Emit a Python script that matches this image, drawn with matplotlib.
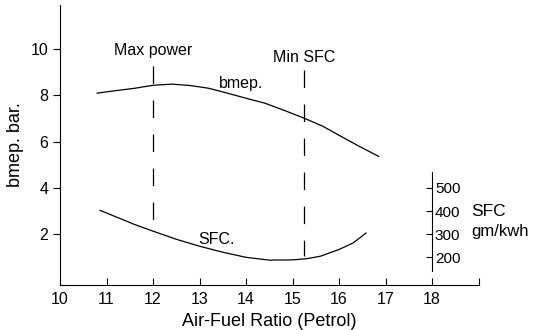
import matplotlib
matplotlib.use("Agg")
import matplotlib.pyplot as plt

plt.rcParams['font.family'] = ['Liberation Sans', 'DejaVu Sans']
plt.rcParams['lines.scale_dashes'] = False

# bmep curve (bar) against air-fuel ratio
afr_bmep = [10.8, 11.2, 11.6, 12.0, 12.4, 12.8, 13.2, 13.6, 14.0, 14.4,
            14.75, 15.25, 15.65, 16.0, 16.4, 16.85]
bmep = [8.09, 8.2, 8.3, 8.43, 8.48, 8.42, 8.3, 8.09, 7.87, 7.66,
        7.4, 7.01, 6.66, 6.27, 5.83, 5.36]

# SFC curve (gm/kwh) against air-fuel ratio
afr_sfc = [10.86, 11.2, 11.6, 12.0, 12.5, 13.0, 13.5, 14.0, 14.5, 15.0,
           15.3, 15.6, 16.0, 16.3, 16.58]
sfc = [403, 375, 342, 313, 278, 248, 222, 200, 188, 189,
       194, 205, 234, 262, 305]

x_ticks = [10, 11, 12, 13, 14, 15, 16, 17, 18, 19]
x_labels = ['10', '11', '12', '13', '14', '15', '16', '17', '18', '']
y_ticks = [2, 4, 6, 8, 10]
sfc_ticks = [200, 300, 400, 500]

max_power_afr = 12.0
min_sfc_afr = 15.25

fig = plt.figure(figsize=(5.36, 3.3), dpi=100)
ax = fig.add_axes([0.112, 0.136, 0.781, 0.849])

ax.plot(afr_bmep, bmep, color='black', lw=0.9)
ax.set_xlim(10, 19)
ax.set_ylim(-0.2, 11.9)

dash = (12.6, 11.9)
ax.plot([max_power_afr, max_power_afr], [9.28, 2.54], color='black', lw=0.9,
        linestyle=(0, dash))
ax.plot([min_sfc_afr, min_sfc_afr], [9.09, 1.05], color='black', lw=0.9,
        linestyle=(0, dash))

ax.text(max_power_afr, 9.95, 'Max power', ha='center', va='center', fontsize=11.5)
ax.text(min_sfc_afr, 9.65, 'Min SFC', ha='center', va='center', fontsize=11.5)
ax.text(13.9, 8.5, 'bmep.', ha='center', va='center', fontsize=11.5)
ax.text(13.37, 1.77, 'SFC.', ha='center', va='center', fontsize=11.5)

for side in ('top', 'right'):
    ax.spines[side].set_visible(False)
ax.set_xticks(x_ticks)
ax.set_xticklabels(x_labels)
ax.set_yticks(y_ticks)
ax.tick_params(axis='x', direction='in', length=5, labelsize=11.5, pad=5)
ax.tick_params(axis='y', direction='out', length=5, labelsize=11.5)
ax.set_xlabel('Air-Fuel Ratio (Petrol)', fontsize=13, labelpad=4)
ax.set_ylabel('bmep. bar.', fontsize=13, labelpad=5)

# secondary SFC scale drawn at x = 18
ax2 = ax.twinx()
ax2.set_ylim(100 + 100 * -0.2, 100 + 100 * 11.9)
ax2.plot(afr_sfc, sfc, color='black', lw=0.9)
for side in ('top', 'left', 'bottom'):
    ax2.spines[side].set_visible(False)
ax2.spines['right'].set_position(('data', 18))
ax2.spines['right'].set_bounds(139, 570)
ax2.set_yticks(sfc_ticks)
ax2.tick_params(axis='y', direction='in', length=4, labelsize=11, pad=2)
ax2.text(18.85, 400, 'SFC', ha='left', va='center', fontsize=12.5)
ax2.text(18.85, 310, 'gm/kwh', ha='left', va='center', fontsize=12)

fig.savefig('out.png', dpi=100)
